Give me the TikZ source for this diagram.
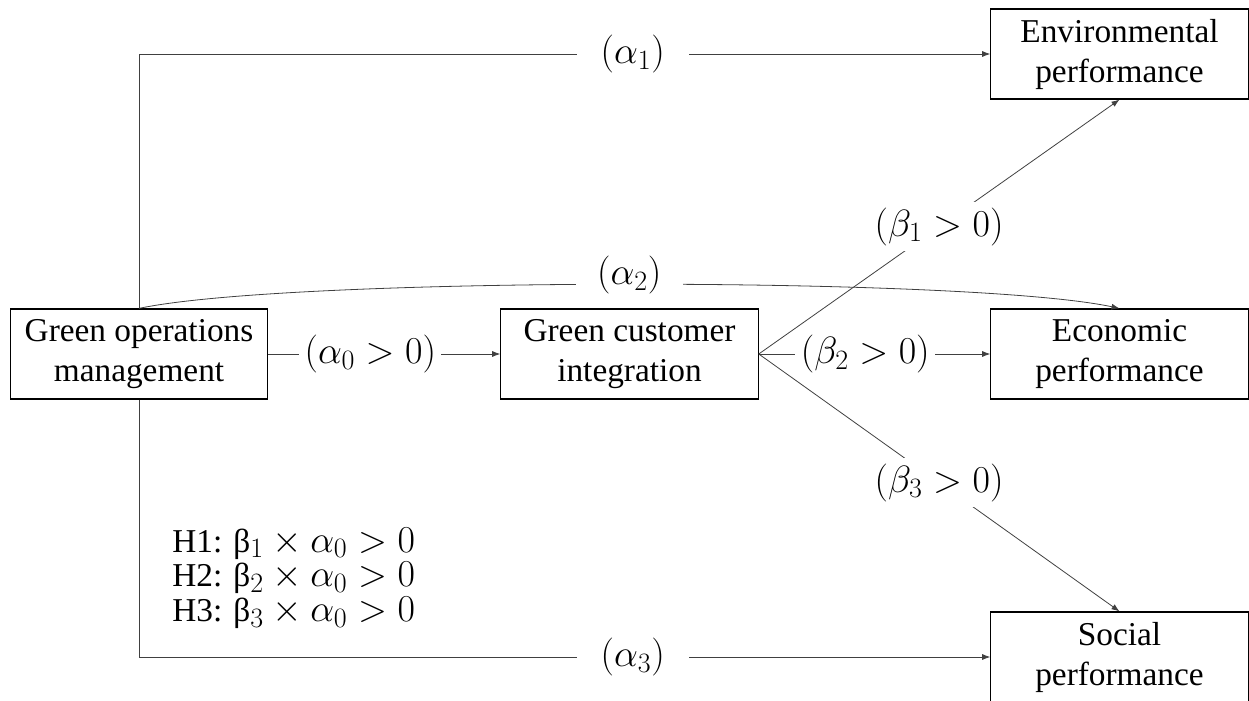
\RequirePackage{fix-cm}
\documentclass[tikz,border=0pt]{standalone}
\usepackage{fontspec}
\setmainfont{Liberation Serif}
\usepackage{tikz}
\usetikzlibrary{arrows.meta}
\DeclareMathSizes{25}{28.5}{21}{16}
\newcommand\figfont{\fontsize{25}{30}\selectfont}
\tikzset{
  node-box/.style={draw=black,line width=0.9pt,minimum width=193pt,
    minimum height=67.5pt,inner sep=0pt,align=center,font=\figfont},
  node-lbl/.style={fill=white,inner sep=4pt,font=\figfont},
  node-note/.style={align=left,inner sep=0pt,font=\fontsize{25}{26}\selectfont},
  arrow/.style={-{Latex[length=6pt,width=4.5pt]},line width=0.6pt,draw=black!75},
}

\begin{document}
\begin{tikzpicture}[x=0.75pt,y=0.75pt]
  \useasboundingbox (0,0) rectangle (1249,700);
  \node[node-box] (gom) at (139,346) {Green operations\\management};
  \node[node-box] (gci) at (629.5,346) {Green customer\\integration};
  \node[node-box] (env) at (1119.5,646) {Environmental\\performance};
  \node[node-box] (eco) at (1119.5,346) {Economic\\performance};
  \node[node-box] (soc) at (1119.5,43) {Social\\performance};
  % direct paths
  \draw[arrow] (gom.north) |- node[node-lbl,inner xsep=18pt,pos=0.79] {$(\alpha_1)$} (env.west);
  \draw[arrow] (gom.north) .. controls +(150,32) and +(-150,32) ..
    node[node-lbl,inner xsep=16pt,yshift=7pt] {$(\alpha_2)$} (eco.north);
  \draw[arrow] (gom.south) |- node[node-lbl,inner xsep=18pt,pos=0.79] {$(\alpha_3)$} (soc.west);
  % mediated paths
  \draw[arrow] (gom.east) -- node[node-lbl,pos=0.44] {$(\alpha_0>0)$} (gci.west);
  \draw[arrow] (gci.east) -- node[node-lbl] {$(\beta_1>0)$} (env.south);
  \draw[arrow] (gci.east) -- node[node-lbl,pos=0.46] {$(\beta_2>0)$} (eco.west);
  \draw[arrow] (gci.east) -- node[node-lbl] {$(\beta_3>0)$} (soc.north);
  \node[node-note,anchor=west] (hyp) at (172,122)
    {H1: β$_1\times\alpha_0>0$\\H2: β$_2\times\alpha_0>0$\\H3: β$_3\times\alpha_0>0$};
\end{tikzpicture}
\end{document}
